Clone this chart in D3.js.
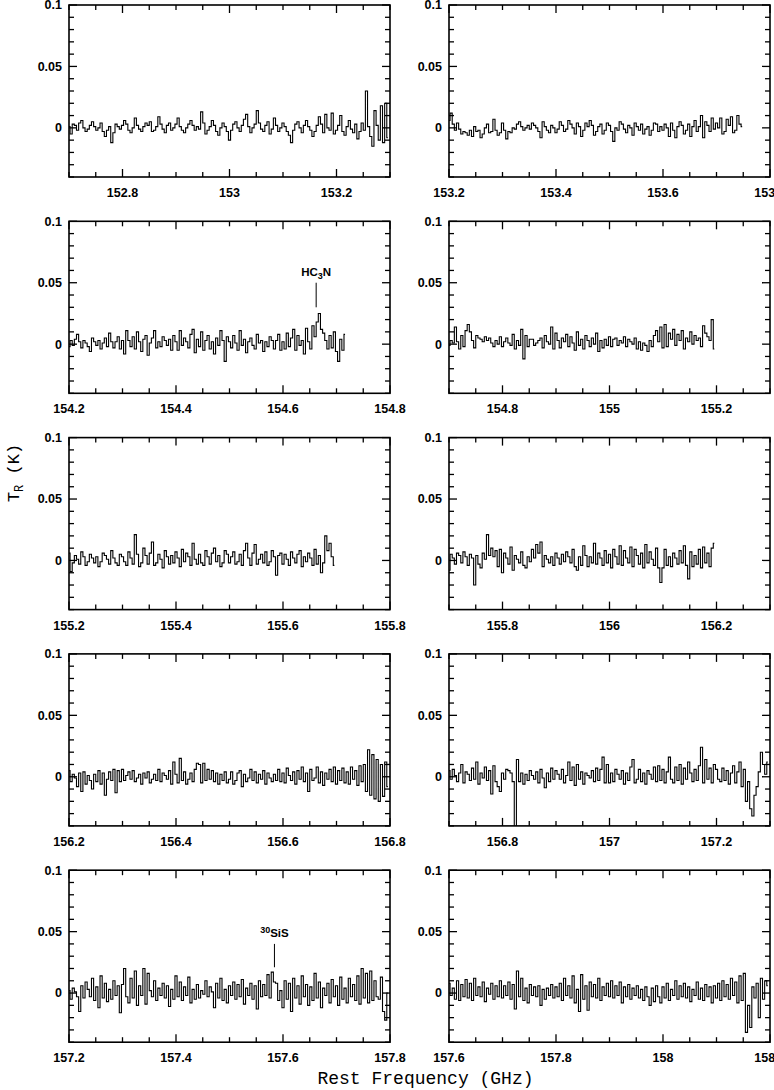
<!DOCTYPE html>
<html>
<head>
<meta charset="utf-8">
<script src="https://cdn.jsdelivr.net/npm/d3@7"></script>
<style>
html,body{margin:0;padding:0;background:#fff;}
svg{display:block;}
</style>
</head>
<body>
<svg id="chart" width="774" height="1090"></svg>
<script>
// ---------------- DATA ----------------
// Panel x-ranges (GHz)
const xDomains = [
  [152.7,153.3],[153.2,153.8],
  [154.2,154.8],[154.7,155.3],
  [155.2,155.8],[155.7,156.3],
  [156.2,156.8],[156.7,157.3],
  [157.2,157.8],[157.6,158.2]
];
// first channel frequency of each spectrum (GHz) and channel width (GHz)
const startFreqs = [152.7,153.2,154.2,154.7,155.2,155.7,156.2,156.7,157.2,157.6];
const chanWidth = 0.004;
const yDomain = [-0.04, 0.1];
const yTickValues = [0, 0.05, 0.1];
const yTickLabels = ["0", "0.05", "0.1"];

// Spectra, T_R in mK
const spec1 = [1,-5,3,2,-2,4,6,0,-3,-1,2,5,1,-2,0,4,-3,-7,-2,1,-12,-4,3,1,-1,
  2,6,3,-2,-4,0,8,2,-1,-3,1,4,2,5,-3,-2,1,9,3,-1,-4,2,4,-2,0,
  3,8,1,-2,-4,0,3,6,2,-2,1,-1,13,4,-5,-2,1,6,2,-3,-6,0,4,1,-3,
  -10,-2,3,5,0,-3,2,7,11,1,-4,0,3,14,4,-1,-3,2,5,-5,-1,8,2,-3,0,
  4,1,-3,-6,-12,-2,3,5,0,-4,2,6,1,-2,-7,-3,2,9,3,-4,11,0,-2,12,-5,
  -2,2,10,-3,-6,1,6,-1,-4,3,-9,-3,4,-2,30,1,-7,-15,14,2,-10,18,-12,20,-8];
const spec2 = [6,12,3,-2,4,-1,-5,-3,-4,-6,-2,-7,1,-3,-2,-8,-5,0,3,-4,-3,7,-2,-6,-4,
  4,-2,-9,-3,-4,0,-1,3,5,1,-2,0,2,-1,4,2,0,-3,-8,5,1,-2,-4,2,0,
  -4,-1,5,2,-3,-1,6,3,0,-5,4,1,-7,-2,4,1,6,2,-6,-3,1,3,-5,-2,4,
  2,-3,-11,0,-2,5,3,-1,-4,2,0,-6,4,1,-2,3,-5,-1,1,-6,-2,4,3,-3,1,
  -2,3,0,-7,4,-2,-8,1,5,2,-5,-2,3,-7,1,6,-3,1,10,-8,5,2,-3,8,-1,
  4,0,8,-5,-3,7,2,9,-4,-2,10,3,1];
const spec3 = [-2,3,-1,4,8,2,-3,3,1,-2,-6,5,2,-1,3,-4,1,5,-2,9,2,-3,2,6,-4,
  3,-8,11,3,-2,6,-4,10,2,-6,4,7,-9,1,5,11,-3,2,-2,6,3,-1,4,-5,7,
  2,-5,11,-1,5,2,-3,8,12,-7,4,-2,10,-5,3,7,-4,2,-8,5,-1,11,3,-14,6,
  2,-3,7,1,-5,11,-1,4,-7,2,5,-1,-4,8,1,3,-6,2,-2,6,3,-4,3,8,-5,
  2,-4,9,-2,5,12,-5,7,-1,3,-8,13,2,-4,15,6,18,25,12,9,3,-4,7,-3,10,-6,-14,4,-5,8];
const spec4 = [-1,3,1,14,2,-4,7,-2,11,16,10,3,-3,7,5,4,2,6,3,5,1,-2,3,0,6,
  -2,2,5,1,-1,8,-4,3,-1,12,-12,7,-2,4,4,-1,1,3,5,-3,7,2,0,14,-4,
  9,3,-3,5,2,8,-2,6,1,-5,10,-1,4,-4,7,3,-2,5,0,9,-6,3,-3,4,-1,
  6,-2,4,5,-1,3,1,6,-2,4,2,0,5,-4,2,-5,1,-1,-6,3,-2,7,11,2,14,
  -3,16,-2,9,4,12,-1,8,3,11,-4,5,2,10,0,7,3,5,-2,15,9,6,3,20,-4];
const spec5 = [6,-9,-2,4,1,-3,7,3,-4,-1,5,2,-2,3,-5,-1,6,4,1,-3,8,2,-2,-4,5,
  3,-1,-4,7,2,-3,21,5,-5,-2,10,4,-3,6,15,-4,-2,5,1,-6,8,3,-3,4,-2,
  7,2,-5,9,-1,6,3,-4,14,1,-3,5,-2,-4,8,3,-3,6,10,-1,4,-5,-2,8,5,
  -2,3,7,-3,-1,5,-4,8,14,2,-4,6,13,-3,1,5,-2,7,-4,-1,8,3,-12,4,6,
  -3,5,1,-4,7,2,-2,5,8,-5,3,-1,6,2,-4,9,-3,4,-10,-2,20,8,14,3,-4];
const spec6 = [-8,5,2,-3,6,4,-2,7,3,-4,5,2,-20,4,-3,-6,6,1,21,4,10,3,8,-5,9,
  -10,6,2,-3,11,-8,4,1,-2,7,-4,-6,3,-1,9,2,13,6,15,-5,4,1,-2,3,-4,
  6,2,-3,5,-1,7,3,-2,9,-5,-8,3,-4,12,4,-5,3,-2,14,-3,6,2,-4,8,-2,
  5,-6,9,3,-3,12,-4,8,2,-2,11,-5,9,4,-3,6,-6,13,-2,7,1,-4,10,-6,-18,
  -6,9,-4,3,-5,6,2,-3,8,-2,12,-4,-15,7,-5,4,-3,9,-6,11,-2,6,-5,10,14];
const spec7 = [5,-4,2,-1,-8,3,-12,4,-6,1,-3,-10,2,-4,5,-6,3,-15,-2,4,-3,6,-13,5,-4,
  6,-3,1,4,-2,5,-4,-1,2,-6,3,-1,4,-5,-2,2,-3,6,-4,3,1,-2,5,-6,12,
  2,-5,15,-3,4,-6,-2,3,-4,6,11,10,-5,11,-3,6,-2,5,-4,3,-6,2,-3,4,-5,
  -2,4,-6,-3,3,5,-8,2,-4,-1,6,-3,4,-5,2,-2,5,-6,3,-1,-4,2,-3,6,-4,
  3,-5,7,1,-3,4,-6,5,-2,8,-4,3,-12,6,-3,-1,8,-5,4,-7,3,-2,6,-4,8,
  -6,5,-3,7,-5,4,-6,8,-2,5,-7,9,-4,10,-12,22,-15,18,-18,14,-20,10,-16,12,-8];
const spec8 = [5,-2,6,1,-4,3,10,-5,4,2,-3,7,-2,12,-6,3,-1,8,-3,5,-14,9,-4,-8,-12,
  3,-2,6,5,3,-4,-60,14,-4,3,-6,2,-3,5,1,-2,4,-5,6,-1,-9,3,-4,7,-2,
  5,2,-2,6,-5,1,12,-3,8,-7,10,-2,4,-6,3,1,-1,5,-4,7,-3,6,16,-5,10,
  -5,3,-4,6,2,-2,5,-6,3,-3,8,14,-5,-2,6,-4,3,-6,5,2,-2,8,-4,9,-3,
  6,-5,4,16,-2,-5,8,-3,10,-6,7,-2,12,3,-4,6,-3,9,24,-5,14,-2,7,-5,10,
  6,-2,-4,7,-3,5,-6,3,9,-5,4,12,-8,6,-20,-4,-26,-32,-15,-8,4,20,10,2,12];
const spec9 = [2,-5,4,1,-3,-15,6,-4,9,3,-3,12,-6,5,-12,14,-4,8,-7,3,-5,10,-2,6,-16,
  7,20,-3,-8,12,-4,18,-10,6,-2,20,-9,16,2,-3,10,-6,4,-2,8,-4,6,-11,3,-5,
  14,-3,9,-6,5,-2,13,-8,3,-5,7,-4,2,-1,10,-3,5,1,-12,8,-4,12,-6,3,-8,
  6,-2,9,-5,7,-3,11,-9,4,-2,8,-5,6,-13,10,-3,7,-2,15,-4,17,9,8,-6,2,
  -12,10,-5,8,-15,12,-4,6,-9,14,-3,7,-10,5,-6,16,-4,9,-12,4,-2,8,-8,11,-3,
  6,-10,13,-5,4,-8,12,-3,7,-6,14,-9,20,-4,16,-8,18,-6,10,-3,-5,13,-15,-22,0];
const spec10 = [8,-2,4,-5,10,-6,7,-3,11,-4,8,-6,12,-2,5,-3,9,-7,4,-1,8,-5,6,-3,10,
  -4,6,-2,9,-5,7,-13,18,-3,12,-6,4,-8,7,-2,5,-3,6,-10,3,-5,4,-2,7,-4,
  5,-3,8,-6,12,-2,6,-4,14,-8,3,-15,15,-5,6,-14,9,-3,7,-4,12,-6,5,-2,8,
  -3,10,-4,6,-2,9,-8,5,-3,7,-5,4,-2,6,-4,3,-6,5,-3,-10,4,-7,6,-3,-8,
  5,-4,8,-6,3,-2,10,-5,6,-3,8,-4,5,-7,3,-2,9,-5,4,-6,7,-3,5,-8,6,
  -4,8,-6,10,-3,7,-5,12,-2,9,-8,14,-6,16,-32,-10,-28,5,-4,8,-20,12,-5,10,6];
const spectra = [spec1,spec2,spec3,spec4,spec5,spec6,spec7,spec8,spec9,spec10];

// Line identifications
const lineNames = ["HC3N", "30SiS"];
const linePanels = [2, 8];
const lineFreqs = [154.662, 157.584];
const lineMarkLow = [0.030, 0.021];
const lineMarkHigh = [0.050, 0.040];

// ---------------- LAYOUT ----------------
const W = 774, H = 1090;
const colLeft = [69, 449];
const panelW = 321, panelH = 172;
const rowTop0 = 5, rowStep = 216.3;

const svg = d3.select("#chart");
svg.append("rect").attr("width", W).attr("height", H).attr("fill", "#fff");

const defs = svg.append("defs");
const fmtX = v => String(+v.toFixed(2));
const sansFont = "Liberation Sans, Arial, sans-serif";

spectra.forEach((spec, i) => {
  const row = Math.floor(i / 2), col = i % 2;
  const left = colLeft[col], top = rowTop0 + row * rowStep;
  const x = d3.scaleLinear().domain(xDomains[i]).range([left, left + panelW]);
  const y = d3.scaleLinear().domain(yDomain).range([top + panelH, top]);

  const g = svg.append("g");
  const clipId = "clip" + i;
  defs.append("clipPath").attr("id", clipId)
    .append("rect").attr("x", left).attr("y", top).attr("width", panelW).attr("height", panelH);

  // spectrum
  const pts = spec.map((v, k) => ({f: startFreqs[i] + k * chanWidth, t: v / 1000}));
  const line = d3.line().x(d => x(d.f)).y(d => y(d.t)).curve(d3.curveStep);
  g.append("path").datum(pts)
    .attr("clip-path", `url(#${clipId})`)
    .attr("d", line)
    .attr("fill", "none").attr("stroke", "#000").attr("stroke-width", 1.1);

  // frame
  g.append("rect").attr("x", left).attr("y", top).attr("width", panelW).attr("height", panelH)
    .attr("fill", "none").attr("stroke", "#000").attr("stroke-width", 1.6);

  // x ticks
  const [d0, d1] = xDomains[i];
  const minorX = d3.range(Math.ceil(d0 / 0.05 - 1e-6), Math.floor(d1 / 0.05 + 1e-6) + 1).map(k => k * 0.05);
  const isMajorX = v => Math.abs(v / 0.2 - Math.round(v / 0.2)) < 1e-6;
  minorX.forEach(v => {
    const len = isMajorX(v) ? 8 : 5;
    const px = x(v);
    g.append("line").attr("x1", px).attr("x2", px).attr("y1", top + panelH).attr("y2", top + panelH - len)
      .attr("stroke", "#000").attr("stroke-width", 1.3);
    g.append("line").attr("x1", px).attr("x2", px).attr("y1", top).attr("y2", top + len)
      .attr("stroke", "#000").attr("stroke-width", 1.3);
  });
  minorX.filter(isMajorX).forEach(v => {
    g.append("text").attr("x", x(v)).attr("y", top + panelH + 20)
      .attr("text-anchor", "middle")
      .attr("font-family", sansFont)
      .attr("font-weight", "bold").attr("font-size", 12.5)
      .attr("fill", "#000")
      .text(fmtX(v));
  });

  // y ticks
  const minorY = d3.range(-4, 11).map(k => k * 0.01);
  const isMajorY = v => Math.abs(v / 0.05 - Math.round(v / 0.05)) < 1e-6;
  minorY.forEach(v => {
    const len = isMajorY(v) ? 8 : 5;
    const py = y(v);
    g.append("line").attr("x1", left).attr("x2", left + len).attr("y1", py).attr("y2", py)
      .attr("stroke", "#000").attr("stroke-width", 1.3);
    g.append("line").attr("x1", left + panelW).attr("x2", left + panelW - len).attr("y1", py).attr("y2", py)
      .attr("stroke", "#000").attr("stroke-width", 1.3);
  });
  yTickValues.forEach((v, k) => {
    g.append("text").attr("x", left - 7).attr("y", y(v)).attr("dy", "0.35em")
      .attr("text-anchor", "end")
      .attr("font-family", sansFont)
      .attr("font-weight", "bold").attr("font-size", 12.5)
      .attr("fill", "#000")
      .text(yTickLabels[k]);
  });

  // line identifications
  linePanels.forEach((p, k) => {
    if (p !== i) return;
    const px = x(lineFreqs[k]);
    g.append("line").attr("x1", px).attr("x2", px)
      .attr("y1", y(lineMarkLow[k])).attr("y2", y(lineMarkHigh[k]))
      .attr("stroke", "#000").attr("stroke-width", 1);
    const t = g.append("text").attr("x", px).attr("y", y(lineMarkHigh[k]) - 7)
      .attr("text-anchor", "middle")
      .attr("font-family", sansFont)
      .attr("font-weight", "bold").attr("font-size", 11.5).attr("fill", "#000");
    if (lineNames[k] === "HC3N") {
      t.append("tspan").text("HC");
      t.append("tspan").attr("font-size", 9).attr("dy", 3).text("3");
      t.append("tspan").attr("dy", -3).text("N");
    } else {
      t.append("tspan").attr("font-size", 9).attr("dy", -4).text("30");
      t.append("tspan").attr("dy", 4).text("SiS");
    }
  });
});

// axis titles
const yt = svg.append("text")
  .attr("transform", "translate(19,473) rotate(-90)")
  .attr("text-anchor", "middle")
  .attr("font-family", "Liberation Mono, Courier New, monospace")
  .attr("font-size", 17).attr("fill", "#000");
yt.append("tspan").text("T");
yt.append("tspan").attr("font-size", 12).attr("dy", 4).text("R");
yt.append("tspan").attr("dy", -4).text(" (K)");

svg.append("text")
  .attr("x", 425.5).attr("y", 1084)
  .attr("text-anchor", "middle")
  .attr("font-family", "Liberation Mono, Courier New, monospace")
  .attr("font-size", 18).attr("fill", "#000")
  .text("Rest Frequency (GHz)");
</script>
</body>
</html>
